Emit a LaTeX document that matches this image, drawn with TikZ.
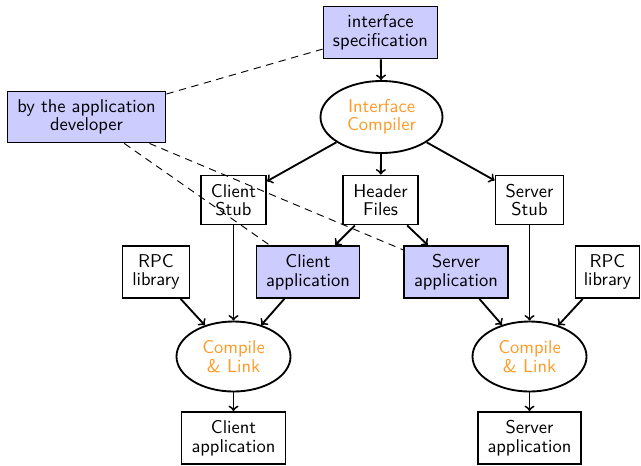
\documentclass[tikz,border=0pt]{standalone}
\usetikzlibrary{shapes.geometric}
\definecolor{boxblue}{RGB}{204,204,255}
\definecolor{txtorange}{RGB}{255,155,40}
\begin{document}
\begin{tikzpicture}[x=0.54pt,y=-0.54pt,
  every node/.style={font={\fontsize{10}{10}\selectfont\sffamily}, align=center, inner sep=1pt},
  sz/.style 2 args={minimum width=#1*0.54pt, minimum height=#2*0.54pt},
  plainbox/.style={draw, line width=1pt, rectangle},
  bluebox/.style={draw, line width=1pt, rectangle, fill=boxblue},
  proc/.style={draw, line width=1pt, ellipse, text=txtorange},
  arr/.style={->, line width=1pt},
  devline/.style={dash pattern=on 4pt off 3pt, line width=0.5pt}
]
\useasboundingbox (0,0) rectangle (641,465);
\node[bluebox, sz={114}{52}] (spec) at (380.5,32.5) {interface\\specification};
\node[proc, sz={122}{72}] (comp) at (381.5,117) {Interface\\Compiler};
\node[bluebox, sz={158}{51}] (dev) at (86.5,117) {by the application\\developer};
\node[plainbox, sz={65}{49}] (cstub) at (233.5,200) {Client\\Stub};
\node[plainbox, sz={75}{49}] (hdr) at (380.5,200) {Header\\Files};
\node[plainbox, sz={68}{49}] (sstub) at (529.5,200) {Server\\Stub};
\node[plainbox, sz={67}{52}] (rpcl) at (156,272) {RPC\\library};
\node[bluebox, sz={103}{52}] (capp) at (308,272) {Client\\application};
\node[bluebox, sz={104}{52}] (sapp) at (456,272) {Server\\application};
\node[plainbox, sz={64}{52}] (rpcr) at (607.5,272) {RPC\\library};
\node[proc, sz={114}{70}] (cl1) at (233.5,356.5) {Compile\\\& Link};
\node[proc, sz={114}{70}] (cl2) at (529.5,356.5) {Compile\\\& Link};
\node[plainbox, sz={104}{52}] (cout) at (233.5,438) {Client\\application};
\node[plainbox, sz={103}{52}] (sout) at (529.5,438) {Server\\application};

\draw[devline] (dev) -- (spec);
\draw[devline] (dev) -- (capp);
\draw[devline] (dev) -- (sapp);

\draw[arr] (spec) -- (comp);
\draw[arr] (comp) -- (cstub);
\draw[arr] (comp) -- (hdr);
\draw[arr] (comp) -- (sstub);
\draw[arr] (hdr) -- (capp);
\draw[arr] (hdr) -- (sapp);
\draw[arr] (cstub) -- (cl1);
\draw[arr] (rpcl) -- (cl1);
\draw[arr] (capp) -- (cl1);
\draw[arr] (cl1) -- (cout);
\draw[arr] (sstub) -- (cl2);
\draw[arr] (sapp) -- (cl2);
\draw[arr] (rpcr) -- (cl2);
\draw[arr] (cl2) -- (sout);
\end{tikzpicture}
\end{document}
